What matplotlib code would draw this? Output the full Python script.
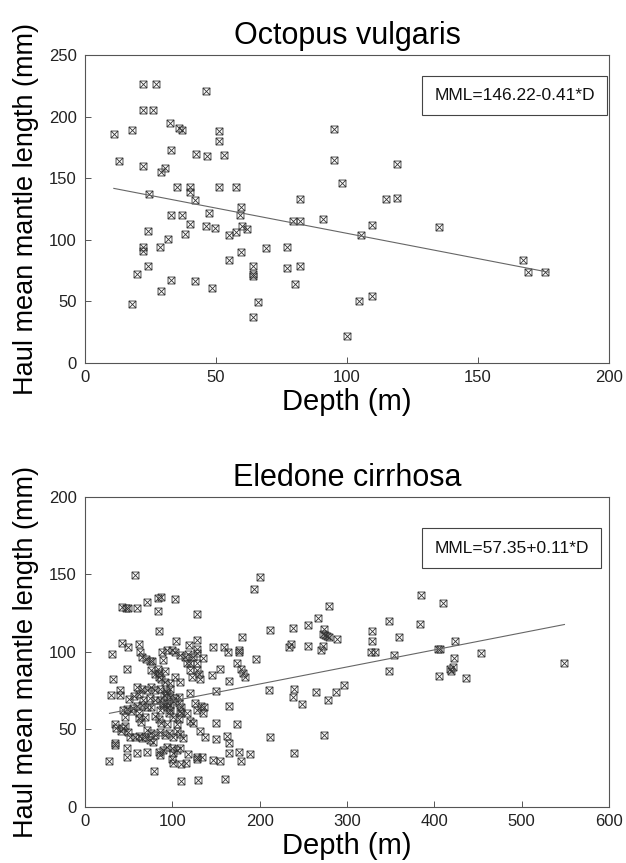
import numpy as np
import matplotlib
matplotlib.use('Agg')
import matplotlib.pyplot as plt
from matplotlib.path import Path

plt.rcParams['font.family'] = ['Liberation Sans', 'DejaVu Sans']

# Octopus vulgaris: depth (m) vs haul mean mantle length (mm)
octo_depth = [22, 27, 46, 22, 26, 32.5, 36, 37, 11, 18, 51, 51, 13, 33, 42.5, 46.5, 53,
              22, 30.5, 29, 35, 40, 40, 51, 57.5, 24.5, 42, 82, 59.5, 47.5, 59, 33, 37,
              79.5, 82, 91, 40, 46, 49.5, 60, 62, 57.5, 55, 24, 38, 31.5, 22, 22, 28.5,
              69, 77, 59.5, 55, 24, 64, 77, 82, 20, 64, 64, 33, 42, 80, 29, 48.5, 18, 66, 64,
              95, 95, 119, 98, 115, 119, 109.5, 105.5, 135, 167, 169, 175.5, 109.5, 104.5, 100]
octo_mml = [226.5, 226.5, 221, 205, 205, 194.5, 191, 189, 185.5, 189, 188, 180, 164, 173,
            169.5, 168, 168.5, 160, 158, 155, 143, 142.5, 139, 142.5, 143, 137, 132, 133,
            127, 122, 120, 120.5, 120.5, 115.5, 115.5, 116.5, 113, 111, 109.5, 111, 108.5,
            106, 104, 107.5, 104.5, 101, 94, 90.5, 94.5, 93, 94.5, 90, 83.5, 78.5, 78.5, 77,
            78.5, 72, 72, 71, 67.5, 66.5, 64.5, 58.5, 60.5, 48, 49.5, 37,
            190, 165, 161.5, 146, 133, 134, 112, 103.5, 110, 83.5, 73.5, 73.5, 54.5, 50, 22]
octo_intercept, octo_slope = 146.22, -0.41
octo_range = [11, 177]

# Eledone cirrhosa
ele_depth = [57.6, 200.4, 193.5, 84, 87, 103, 71.4, 42, 46.9, 49.6, 60, 84, 128, 211.8, 84.7,
             179.8, 103.8, 42, 49.6, 61.8, 128.6, 118.7, 30.9, 63, 146.2, 159.2, 164.1, 176,
             176.7, 195.8, 65.3, 69.8, 74.4, 76.7, 88.2, 94.3, 99.6, 102.7, 88.9, 108.8, 114.1,
             118.3, 124, 127.9, 128.6, 134.7, 116.4, 120.2, 48.5, 83.6, 85.1, 92, 84.4, 128.6,
             130.2, 145, 154.6, 173.7, 179, 180.5, 182.8, 32.4, 102.7, 108.8, 87.4, 92, 97.3,
             122.5, 131.7, 165.3, 59.9, 64.9, 70.6, 75.2, 80.5, 85.9, 92.7, 97.3, 120.2, 150,
             211.1, 30.2, 40.1, 40.1, 50, 56.1, 62.2, 66.8, 74.4, 79.8, 90.5, 94.3, 97.3, 102.7,
             108, 43.9, 47.7, 52.3, 55.4, 60, 65.3, 70.6, 75.9, 85.9, 88.9, 94.3, 97.3, 101.1,
             85.9, 89.7, 93.5, 97.3, 107.3, 110.3, 108.8, 117.2, 126.3, 132.4, 136.3, 165.3,
             127.9, 62.2, 62.2, 69.1, 64.5, 79.8, 84.4, 87.4, 93.5, 96.6, 101.1, 107.3, 109.5,
             104.9, 134.7, 120.2, 124, 150, 173.7, 34.7, 35.5, 43.9, 41.6, 46.2, 49.2, 51.5,
             56.9, 61.5, 65.3, 69.1, 71.4, 75.2, 80.5, 74.4, 77.5, 85.9, 91.2, 96.6, 100.4,
             104.9, 108.8, 111.8, 131.7, 137, 150, 162.8, 165.3, 34.7, 34.7, 48.5, 47.7, 59.2,
             70.6, 84.4, 85.9, 89.7, 94.3, 99.2, 101.1, 104.9, 108.8, 99.2, 101.1, 110.3, 115.7,
             118.3, 127.9, 128.6, 134, 146.2, 154.6, 164.5, 176, 188.9, 179, 27.9, 79, 109.5,
             129.4, 160.7, 211.8, 75.2, 80.5, 120.2, 127.9, 45.8,
             237.8, 255.3, 266.8, 279.7, 273.6, 272.1, 275.2, 277.5, 279, 288.1, 255.3, 236.2,
             233.9, 272.1, 270.6, 239.3, 237.8, 248.4, 264.5, 278.2, 287.4, 296.5, 273.6, 239.3,
             328.6, 328.6, 327.8, 332.4, 347.7, 359.1, 353.8, 347.7, 384.3, 383.6, 409.5, 404.2,
             406.5, 404.9, 423.3, 422.5, 417.9, 421, 419.4, 436.2, 453.8, 548.5]
ele_mml = [149.4, 148.6, 140.4, 135, 135.5, 134.4, 132.2, 128.8, 128.1, 128.6, 128.1, 126.4,
           124.3, 113.9, 113.5, 109.8, 107.3, 106, 103.4, 105.1, 107.7, 104.5, 99, 100.2, 103,
           103, 100.2, 101.3, 100.2, 95.2, 96.5, 95.2, 94.4, 94, 99.7, 101.3, 101.3, 100, 94.8,
           98, 96.9, 98.7, 96.5, 99.5, 101.7, 95.9, 92.6, 93.1, 88.8, 88.8, 86.2, 87.9, 83.6,
           88.3, 85.8, 85.1, 89, 92.6, 89.2, 86.2, 84, 82.3, 84, 80.4, 82.3, 80.6, 79.7, 83.6,
           82.8, 81, 77.2, 75.9, 75.4, 77.2, 75.4, 75.9, 74.6, 75.9, 73.7, 74.6, 75.4, 72, 75.4,
           72, 69.8, 71.6, 72.9, 69, 70.3, 69, 72, 73.7, 71.1, 70.3, 71.1, 62.5, 62.9, 62.1,
           63.6, 65.1, 65.8, 64.3, 64.3, 69, 66.8, 67.3, 65.5, 68.1, 62.5, 65.5, 64.3, 62.5,
           66.8, 64.3, 61.7, 60.4, 67.3, 65.1, 64.7, 65.1, 62.5, 60.4, 57.2, 58.2, 55, 58.6,
           56.5, 54, 53.5, 60.4, 57.8, 56.5, 60.8, 53.5, 60.4, 55.7, 54, 54.4, 53.5, 53.5, 50.7,
           50.7, 49.2, 52.2, 48.5, 45.3, 45.3, 45.7, 44.2, 45.3, 49.6, 47.5, 46.4, 43.2, 42.1,
           48.3, 46.2, 47.5, 45.3, 48.8, 47, 44.2, 49.2, 45.3, 43.6, 45.7, 41.4, 41.4, 39.7,
           37.8, 32.4, 34.6, 35.4, 35.6, 33.5, 36.7, 38.9, 37.8, 35, 36.7, 37.8, 30.7, 28.1,
           27.7, 28.1, 34.1, 32, 30.7, 32.4, 30.3, 29.8, 35, 35.4, 34.1, 29.8, 29.4, 22.9, 16.5,
           17.4, 18.2, 44.9, 88.4, 85.8, 88.3, 92.6, 57.8,
           115.4, 117.2, 121.9, 129.6, 114.6, 111.6, 111.1, 110.3, 109.8, 108.6, 103.8, 105.1,
           103.4, 103.8, 101.2, 76.3, 71.1, 66.4, 74.1, 69, 74.1, 78.4, 46.6, 34.6,
           113.3, 106.8, 100, 100, 120.2, 109.4, 98.2, 87.5, 136.5, 118, 131.4, 102,
           102, 84.7, 107.3, 95.9, 88.8, 90.1, 87.9, 83, 99.5, 92.6]
ele_intercept, ele_slope = 57.35, 0.11
ele_range = [28, 549]

# square with a cross inside
box_x = Path([(-1, -1), (1, -1), (1, 1), (-1, 1), (-1, -1),
              (-1, -1), (1, 1), (-1, 1), (1, -1)],
             [Path.MOVETO, Path.LINETO, Path.LINETO, Path.LINETO, Path.CLOSEPOLY,
              Path.MOVETO, Path.LINETO, Path.MOVETO, Path.LINETO])

fig = plt.figure(figsize=(6.26, 8.63), dpi=100)
ax1 = fig.add_axes([0.1358, 0.5794, 0.837, 0.3569])
ax2 = fig.add_axes([0.1358, 0.0649, 0.837, 0.3592])

panels = [
    (ax1, 'Octopus vulgaris', octo_depth, octo_mml, octo_intercept, octo_slope, octo_range,
     (0, 200), (0, 250), [0, 50, 100, 150, 200], [0, 50, 100, 150, 200, 250],
     'MML=146.22-0.41*D', (0.820, 0.868)),
    (ax2, 'Eledone cirrhosa', ele_depth, ele_mml, ele_intercept, ele_slope, ele_range,
     (0, 600), (0, 200), [0, 100, 200, 300, 400, 500, 600], [0, 50, 100, 150, 200],
     'MML=57.35+0.11*D', (0.814, 0.835)),
]

for ax, title, xd, yd, b0, b1, xr, xlim, ylim, xt, yt, eq, eqpos in panels:
    ax.plot(xd, yd, linestyle='none', marker=box_x, ms=5, mfc='none',
            mec='#333333', mew=0.6)
    xl = np.array(xr, dtype=float)
    ax.plot(xl, b0 + b1 * xl, color='#666666', linewidth=0.8)
    ax.set_xlim(*xlim)
    ax.set_ylim(*ylim)
    ax.set_xticks(xt)
    ax.set_yticks(yt)
    ax.set_title(title, fontsize=22, pad=8)
    ax.set_xlabel('Depth (m)', fontsize=21, labelpad=2)
    ax.set_ylabel('Haul mean mantle length (mm)', fontsize=19.5, labelpad=7)
    ax.tick_params(direction='in', length=4, width=0.7, color='#555555',
                   labelsize=12, labelcolor='#222222')
    ax.tick_params(axis='x', pad=5)
    ax.tick_params(axis='y', pad=6)
    for s in ax.spines.values():
        s.set_color('#555555')
        s.set_linewidth(0.8)
    ax.text(eqpos[0], eqpos[1], eq, transform=ax.transAxes, ha='center', va='center',
            fontsize=12.5, color='#111111',
            bbox=dict(boxstyle='square,pad=0.7', facecolor='white',
                      edgecolor='#444444', linewidth=0.8))

plt.savefig('out.png', dpi=100)
plt.close('all')
